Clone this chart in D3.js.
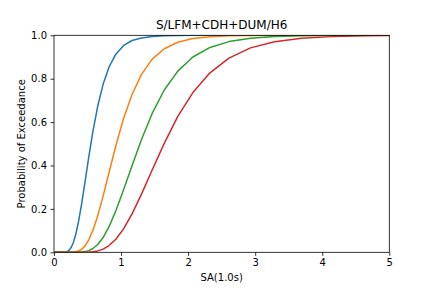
<!DOCTYPE html>
<html>
<head>
    <title>S/LFM+CDH+DUM/H6</title>
    <script src="https://d3js.org/d3.v7.min.js"></script>
    <style>
        body { margin: 0; background: #fff; }
        text { font-family: "DejaVu Sans", sans-serif; fill: #000; }
    </style>
</head>
<body>
    <div id="chart"></div>

    <script>
        // SA(1.0s) values (shared by all four curves)
        var sa = [0.01, 0.145, 0.163, 0.183, 0.205, 0.230, 0.258, 0.290, 0.326, 0.366,
                  0.411, 0.461, 0.517, 0.581, 0.652, 0.732, 0.821, 0.922, 1.035, 1.162,
                  1.305, 1.464, 1.644, 1.846, 2.071, 2.326, 2.609, 2.930, 3.289, 3.692,
                  4.145, 4.651, 5.222];

        // probability of exceedance, one array per damage state
        var blue = [0, 0.0002, 0.0007, 0.0019, 0.0048, 0.011, 0.023, 0.046, 0.084, 0.142,
                    0.221, 0.321, 0.436, 0.558, 0.673, 0.774, 0.854, 0.913, 0.952, 0.976,
                    0.988, 0.995, 0.998, 0.9993, 0.9998, 1, 1, 1, 1, 1,
                    1, 1, 1];
        var orange = [0, 0, 0, 0, 0.00002, 0.0001, 0.0003, 0.0008, 0.0023, 0.0059,
                      0.0136, 0.029, 0.0565, 0.102, 0.168, 0.259, 0.368, 0.491, 0.614, 0.726,
                      0.820, 0.890, 0.938, 0.968, 0.985, 0.9934, 0.9974, 0.999, 0.9997, 1,
                      1, 1, 1];
        var green = [0, 0, 0, 0, 0, 0, 0, 0, 0.0001, 0.0004,
                     0.0012, 0.0032, 0.0078, 0.0176, 0.036, 0.068, 0.118, 0.191, 0.286, 0.398,
                     0.520, 0.640, 0.748, 0.835, 0.900, 0.944, 0.971, 0.986, 0.994, 0.9976,
                     0.9991, 0.9997, 1];
        var red = [0, 0, 0, 0, 0, 0, 0, 0, 0, 0,
                   0.0001, 0.0003, 0.0009, 0.0026, 0.0064, 0.0146, 0.031, 0.060, 0.107, 0.176,
                   0.268, 0.379, 0.502, 0.626, 0.736, 0.827, 0.895, 0.942, 0.970, 0.986,
                   0.9939, 0.9976, 0.9991];

        var series = [
            { values: blue, color: '#1f77b4' },
            { values: orange, color: '#ff7f0e' },
            { values: green, color: '#2ca02c' },
            { values: red, color: '#d62728' }
        ];

        var xTicks = [0, 1, 2, 3, 4, 5];
        var yTicks = [0, 0.2, 0.4, 0.6, 0.8, 1.0];

        var W = 432, H = 288;
        var margin = { top: 35.3, right: 42.7, bottom: 35.7, left: 54 };
        var width = W - margin.left - margin.right;
        var height = H - margin.top - margin.bottom;

        var x = d3.scaleLinear().domain([0, 5]).range([0, width]);
        var y = d3.scaleLinear().domain([0, 1]).range([height, 0]);

        var svg = d3.select('#chart')
            .append('svg')
            .attr('width', W)
            .attr('height', H);

        var g = svg.append('g')
            .attr('transform', 'translate(' + margin.left + ',' + margin.top + ')');

        svg.append('defs').append('clipPath')
            .attr('id', 'clip')
            .append('rect')
            .attr('width', width)
            .attr('height', height);

        var line = d3.line()
            .x(function(d) { return x(d[0]); })
            .y(function(d) { return y(d[1]); });

        var plot = g.append('g').attr('clip-path', 'url(#clip)');
        series.forEach(function(s) {
            plot.append('path')
                .datum(sa.map(function(v, i) { return [v, s.values[i]]; }))
                .attr('fill', 'none')
                .attr('stroke', s.color)
                .attr('stroke-width', 1.5)
                .attr('stroke-linejoin', 'round')
                .attr('d', line);
        });

        // axes
        var xAxis = g.append('g')
            .attr('transform', 'translate(0,' + height + ')')
            .call(d3.axisBottom(x).tickValues(xTicks).tickFormat(d3.format('d'))
                .tickSizeInner(3.5).tickSizeOuter(0).tickPadding(3.5));
        var yAxis = g.append('g')
            .call(d3.axisLeft(y).tickValues(yTicks).tickFormat(d3.format('.1f'))
                .tickSizeInner(3.5).tickSizeOuter(0).tickPadding(3.5));

        [xAxis, yAxis].forEach(function(a) {
            a.select('.domain').remove();
            a.selectAll('line').attr('stroke', '#000').attr('stroke-width', 0.8);
            a.selectAll('text').attr('font-size', 10)
                .attr('font-family', '"DejaVu Sans", sans-serif');
        });

        // spines
        g.append('rect')
            .attr('width', width)
            .attr('height', height)
            .attr('fill', 'none')
            .attr('stroke', '#000')
            .attr('stroke-width', 0.8);

        // labels
        svg.append('text')
            .attr('x', margin.left + width / 2)
            .attr('y', margin.top - 6)
            .attr('text-anchor', 'middle')
            .attr('font-size', 12)
            .text('S/LFM+CDH+DUM/H6');

        svg.append('text')
            .attr('x', margin.left + width / 2)
            .attr('y', 281)
            .attr('text-anchor', 'middle')
            .attr('font-size', 10)
            .text('SA(1.0s)');

        svg.append('text')
            .attr('transform', 'translate(25,' + (margin.top + height / 2) + ') rotate(-90)')
            .attr('text-anchor', 'middle')
            .attr('font-size', 10)
            .text('Probability of Exceedance');
    </script>
</body>
</html>
